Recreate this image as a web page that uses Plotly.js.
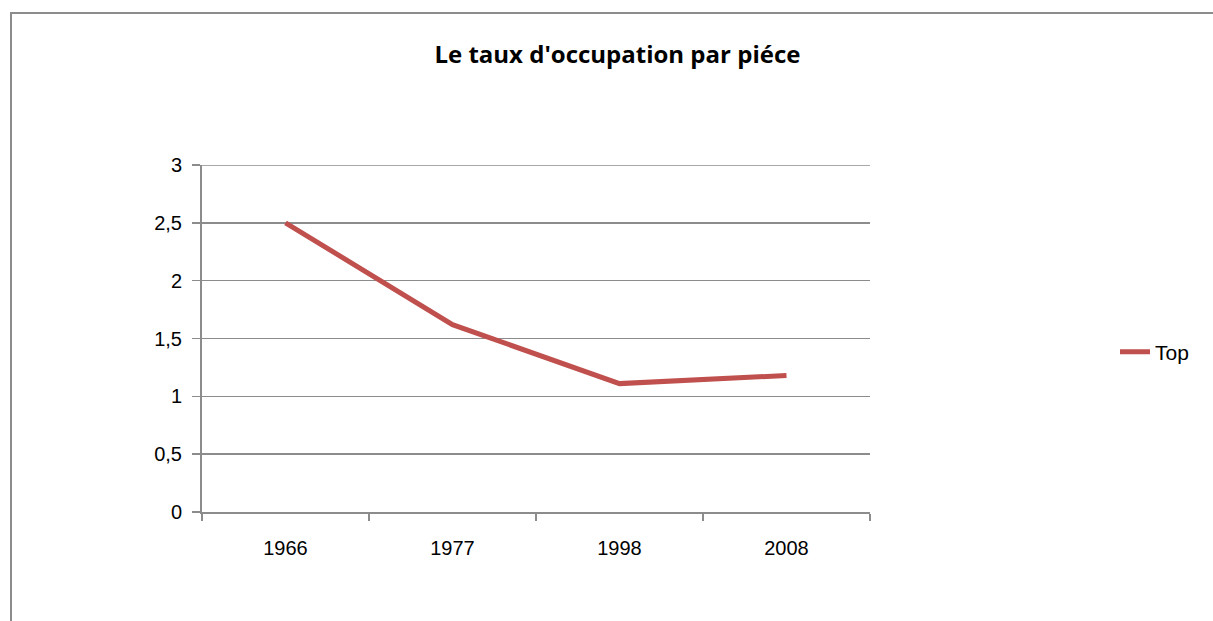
<!DOCTYPE html>
<html>
<head>
<meta charset="utf-8">
<script src="https://cdn.plot.ly/plotly-3.0.1.min.js"></script>
<style>
html,body{margin:0;padding:0;background:#fff;overflow:hidden;}
#chart{width:1213px;height:621px;}
.edge{position:absolute;background:#8c8c8c;pointer-events:none;}
#edgeTop{left:10px;top:12px;width:1203px;height:2px;}
#edgeLeft{left:10px;top:12px;width:2px;height:609px;}
</style>
</head>
<body>
<div id="chart"></div>
<div class="edge" id="edgeTop"></div>
<div class="edge" id="edgeLeft"></div>
<script>
const years = ['1966', '1977', '1998', '2008'];
const topValues = [2.5, 1.62, 1.11, 1.18];
const seriesName = 'Top';
const chartTitle = "Le taux d'occupation par piéce";
const yMax = 3;

const font = {family: 'Liberation Sans, Arial, sans-serif', size: 20, color: '#000'};

Plotly.newPlot('chart', [{
  x: years,
  y: topValues,
  name: seriesName,
  type: 'scatter',
  mode: 'lines',
  line: {color: '#C0504D', width: 5},
  showlegend: true
}], {
  width: 1213,
  height: 621,
  margin: {l: 202, r: 343, t: 165, b: 109},
  paper_bgcolor: '#fff',
  plot_bgcolor: '#fff',
  separators: ', ',
  font: font,
  title: {
    text: '<b>' + chartTitle + '</b>',
    font: {family: 'Open Sans, Liberation Sans, sans-serif', size: 24, color: '#000'},
    xref: 'container', x: 0.509, xanchor: 'center',
    yref: 'container', y: 1 - 55/621, yanchor: 'middle'
  },
  xaxis: {
    type: 'category',
    range: [-0.5, 3.5],
    tickson: 'boundaries',
    ticks: 'outside', ticklen: 7, tickcolor: '#8c8c8c', tickwidth: 1.5,
    showline: true, linecolor: '#8c8c8c', linewidth: 2,
    showgrid: false, zeroline: false,
    ticklabelstandoff: 17,
    tickfont: font
  },
  yaxis: {
    range: [0, yMax], dtick: 0.5, tick0: 0,
    ticks: 'outside', ticklen: 8, tickcolor: '#8c8c8c', tickwidth: 1.5,
    showline: true, linecolor: '#8c8c8c', linewidth: 2,
    showgrid: true, gridcolor: '#8c8c8c', gridwidth: 1.5,
    zeroline: false,
    ticklabelstandoff: 6,
    tickfont: font
  },
  shapes: [{
    type: 'line', xref: 'paper', x0: 0, x1: 1, yref: 'y', y0: yMax, y1: yMax,
    line: {color: '#8c8c8c', width: 1.5}, layer: 'below'
  }],
  legend: {
    xref: 'container', x: 1115/1213, xanchor: 'left',
    yref: 'container', y: 1 - 352/621, yanchor: 'middle',
    font: {family: 'Liberation Sans, Arial, sans-serif', size: 21, color: '#000'},
    bgcolor: 'rgba(0,0,0,0)'
  },
  showlegend: true
}, {displayModeBar: false, staticPlot: true});
</script>
</body>
</html>
